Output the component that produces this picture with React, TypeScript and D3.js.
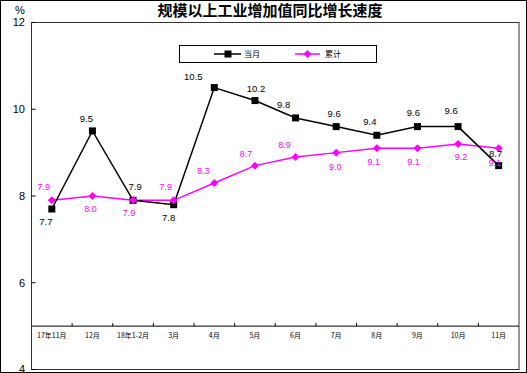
import React from "react";
import * as d3 from "d3";

const W = 527;
const H = 373;

// data
const categories = ["17年11月", "12月", "18年1-2月", "3月", "4月", "5月", "6月", "7月", "8月", "9月", "10月", "11月"];
const monthly = [7.7, 9.5, 7.9, 7.8, 10.5, 10.2, 9.8, 9.6, 9.4, 9.6, 9.6, 8.7];
const cumulative = [7.9, 8.0, 7.9, 7.9, 8.3, 8.7, 8.9, 9.0, 9.1, 9.1, 9.2, 9.1];
const yTicks = [4, 6, 8, 10, 12];

// label offsets (dx, dy) relative to each point
const monthlyLabelPos = [
  [-6, 13], [-6, -12], [2, -14], [-5, 13], [-21, -11], [1, -12],
  [-12, -13], [-2, -13], [-7, -14], [-4, -14], [-7, -16], [-3, -12],
];
const cumulativeLabelPos = [
  [-8, -13], [-2, 13], [-4, 13], [-8, -13], [-11, -12], [-9, -12],
  [-11, -12], [-1, 14], [-3, 14], [-4, 14], [3, 13], [-4, 15],
];

const plot = { left: 31.5, right: 519, top: 22.5, bottom: 369.5 };
const font = "'Liberation Sans', Arial, 'Noto Sans CJK SC', sans-serif";
const MAGENTA = "#FF00FF";

export default function App() {
  const x = d3.scaleBand<string>().domain(categories).range([plot.left, plot.right]);
  const y = d3.scaleLinear().domain([4, 12]).range([plot.bottom, plot.top]);
  const cx = (i: number) => (x(categories[i]) as number) + x.bandwidth() / 2;

  const line = d3
    .line<number>()
    .x((_, i) => cx(i))
    .y((d) => y(d));

  const axisY = y(5);
  const diamond = (px: number, py: number, r: number) =>
    `M${px},${py - r}L${px + r},${py}L${px},${py + r}L${px - r},${py}Z`;

  return (
    <svg width={W} height={H} style={{ position: "absolute", left: 0, top: 0 }} fontFamily={font}>
      <rect x={0.5} y={0.5} width={W - 1} height={H - 1} fill="#fff" stroke="#000" />
      <text x={270} y={16} textAnchor="middle" fontSize={15} fontWeight="bold" fontFamily="'Noto Sans CJK SC', sans-serif">
        规模以上工业增加值同比增长速度
      </text>
      <text x={20} y={14} textAnchor="middle" fontSize={11}>%</text>

      {/* plot frame */}
      <rect
        x={plot.left}
        y={plot.top}
        width={plot.right - plot.left}
        height={plot.bottom - plot.top}
        fill="#fff"
        stroke="#333"
        strokeWidth={1}
      />

      {/* y ticks */}
      {yTicks.map((t) => (
        <g key={t}>
          <line x1={plot.left} x2={plot.left + 4} y1={y(t)} y2={y(t)} stroke="#000" />
          <text x={25} y={y(t)} dy="0.35em" textAnchor="end" fontSize={11}>
            {t}
          </text>
        </g>
      ))}

      {/* x axis at 5 */}
      <line x1={plot.left} x2={plot.right} y1={axisY} y2={axisY} stroke="#000" />
      {categories.slice(1).map((c) => (
        <line key={c} x1={x(c)} x2={x(c)} y1={axisY} y2={axisY - 3} stroke="#000" />
      ))}
      {categories.map((c, i) => (
        <text key={c} x={cx(i)} y={336} dy="0.35em" textAnchor="middle" fontSize={7} fontFamily="'Noto Sans CJK SC', sans-serif">
          {c}
        </text>
      ))}

      {/* series */}
      <path d={line(cumulative) as string} fill="none" stroke={MAGENTA} strokeWidth={1.5} />
      <path d={line(monthly) as string} fill="none" stroke="#000" strokeWidth={1.5} />
      {monthly.map((v, i) => (
        <rect key={"m" + i} x={cx(i) - 3.5} y={y(v) - 3.5} width={7} height={7} fill="#000" />
      ))}
      {cumulative.map((v, i) => (
        <path key={"c" + i} d={diamond(cx(i), y(v), 4)} fill={MAGENTA} />
      ))}

      {/* labels */}
      {monthly.map((v, i) => (
        <text
          key={"ml" + i}
          x={cx(i) + monthlyLabelPos[i][0]}
          y={y(v) + monthlyLabelPos[i][1]}
          dy="0.35em"
          textAnchor="middle"
          fontSize={9.5}
          fill="#000"
        >
          {d3.format(".1f")(v)}
        </text>
      ))}
      {cumulative.map((v, i) => (
        <text
          key={"cl" + i}
          x={cx(i) + cumulativeLabelPos[i][0]}
          y={y(v) + cumulativeLabelPos[i][1]}
          dy="0.35em"
          textAnchor="middle"
          fontSize={9}
          fill={MAGENTA}
        >
          {d3.format(".1f")(v)}
        </text>
      ))}

      {/* legend */}
      <rect x={179.5} y={45.5} width={197} height={17} fill="#fff" stroke="#000" />
      <line x1={214} x2={241} y1={54} y2={54} stroke="#000" strokeWidth={1.5} />
      <rect x={224.5} y={50.5} width={7} height={7} fill="#000" />
      <text x={244} y={54} dy="0.35em" fontSize={8} fontFamily="'Noto Sans CJK SC', sans-serif">当月</text>
      <line x1={295} x2={320} y1={54} y2={54} stroke={MAGENTA} strokeWidth={1.5} />
      <path d={diamond(307.5, 54, 4)} fill={MAGENTA} />
      <text x={325} y={54} dy="0.35em" fontSize={8} fontFamily="'Noto Sans CJK SC', sans-serif">累计</text>
    </svg>
  );
}
